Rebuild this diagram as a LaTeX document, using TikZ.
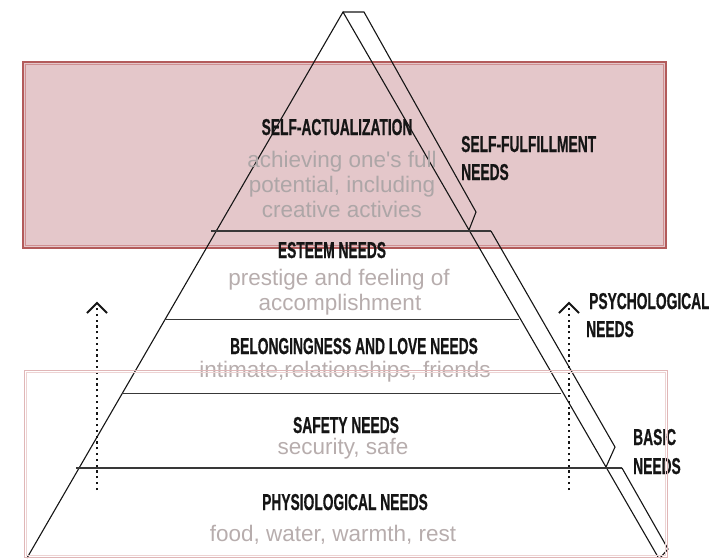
\documentclass[tikz,border=0pt]{standalone}
\usepackage{fontspec}
\setmainfont{Liberation Sans}
\newfontfamily\descfont{Liberation Sans}[Ligatures=TeXOff]
\newfontfamily\headfont{Liberation Sans Bold}[FakeStretch=0.6,FakeBold=0.6]
\usetikzlibrary{calc}
\definecolor{topfill}{HTML}{E4C7CA}
\definecolor{topedge}{HTML}{B35B5B}
\definecolor{topinner}{HTML}{CF8F91}
\definecolor{botedge}{HTML}{E0B6B7}
\definecolor{botinner}{HTML}{EDD3D3}
\definecolor{graytxt}{HTML}{B7ADAD}
\definecolor{graytop}{HTML}{ADA6A7}
\definecolor{ink}{HTML}{151515}
\begin{document}
\begin{tikzpicture}[x=1pt,y=-1pt,
  pyr/.style={draw=ink,line width=1.1pt,line join=miter},
  hline/.style={draw=ink!85,line width=1.2pt},
  head/.style={inner sep=0pt,anchor=base,font=\headfont\fontsize{23}{23}\selectfont,text=ink},
  side/.style={inner sep=0pt,anchor=base west,font=\headfont\fontsize{23}{23}\selectfont,text=ink},
  desc/.style={inner sep=0pt,anchor=base,font=\descfont\fontsize{22.5}{25}\selectfont,text=graytxt},
  desctop/.style={desc,text=graytop},
  dots/.style={draw=ink,line width=2.2pt,dash pattern=on 2.2pt off 3.6pt},
  chev/.style={draw=ink,line width=2pt,line join=miter}]
\useasboundingbox (0,0) rectangle (709,558);
% top highlight box
\fill[topfill] (23,62) rectangle (666,248);
\draw[topedge,line width=1.8pt] (23,62) rectangle (666,248);
\draw[topinner,line width=0.8pt] (25.5,64.5) rectangle (663.5,245.5);
% pyramid coordinates
\coordinate (apex) at (343,12);
\coordinate (bl) at (27,558);
\coordinate (br) at (658,557);
\coordinate (b1a) at (364,12);
\coordinate (b1b) at (476,212);
\coordinate (b1c) at (469,230);
\coordinate (l1a) at (211,231);
\coordinate (l1b) at (491,231);
\coordinate (b2b) at (615,447);
\coordinate (b2c) at (606,467);
\coordinate (l2a) at (165,319.5);
\coordinate (l2b) at (519,319.5);
\coordinate (l3a) at (122,393.5);
\coordinate (l3b) at (561,393.5);
\coordinate (l4a) at (76,468);
\coordinate (l4b) at (622,468);
\coordinate (b3b) at (668,549);
\coordinate (b3c) at (660,558);
% pyramid
\draw[pyr] (bl) -- (apex) -- (br);
\draw[pyr] (apex) -- (b1a) -- (b1b) -- (b1c);
\draw[hline] (l1a) -- (l1b);
\draw[pyr] (l1b) -- (b2b) -- (b2c);
\draw[hline] (l2a) -- (l2b);
\draw[hline] (l3a) -- (l3b);
\draw[hline] (l4a) -- (l4b);
\draw[pyr] (l4b) -- (b3b) -- (b3c);
% texts
\node[head] (sa) at (337,135) {SELF-ACTUALIZATION};
\node[desctop] (sa1) at (342,167) {achieving one's full};
\node[desctop] (sa2) at (342,192) {potential, including};
\node[desctop] (sa3) at (342,217) {creative activies};
\node[head] (es) at (332,258) {ESTEEM NEEDS};
\node[desc] (es1) at (339,285) {prestige and feeling of};
\node[desc] (es2) at (340,310) {accomplishment};
\node[head] (bl1) at (354,354) {BELONGINGNESS AND LOVE NEEDS};
\node[desc] (bl2) at (345,377) {intimate,relationships, friends};
\node[head] (sf) at (346,433) {SAFETY NEEDS};
\node[desc] (sf1) at (343,454) {security, safe};
\node[head] (ph) at (345,510) {PHYSIOLOGICAL NEEDS};
\node[desc] (ph1) at (333,541) {food, water, warmth, rest};
\node[side] (sfl) at (461,152) {SELF-FULFILLMENT};
\node[side] (sfl2) at (461,180) {NEEDS};
\node[side] (ps) at (589,309) {PSYCHOLOGICAL};
\node[side] (ps2) at (586,337) {NEEDS};
\node[side] (ba) at (633,445) {BASIC};
\node[side] (ba2) at (633,474) {NEEDS};
% dotted arrows
\coordinate (la0) at (97,490);
\coordinate (la1) at (97,308);
\coordinate (ra0) at (569,490);
\coordinate (ra1) at (569,308);
\draw[dots] (la0) -- (la1);
\draw[dots] (ra0) -- (ra1);
\draw[chev] ($(la1)+(-10,5)$) -- ($(la1)+(0,-5)$) -- ($(la1)+(10,5)$);
\draw[chev] ($(ra1)+(-10,5)$) -- ($(ra1)+(0,-5)$) -- ($(ra1)+(10,5)$);
% bottom box
\draw[botedge,line width=1.2pt] (24.5,370.5) rectangle (667.5,557.5);
\draw[botinner,line width=0.8pt] (26.5,372.5) rectangle (665.5,555.5);
\end{tikzpicture}
\end{document}
